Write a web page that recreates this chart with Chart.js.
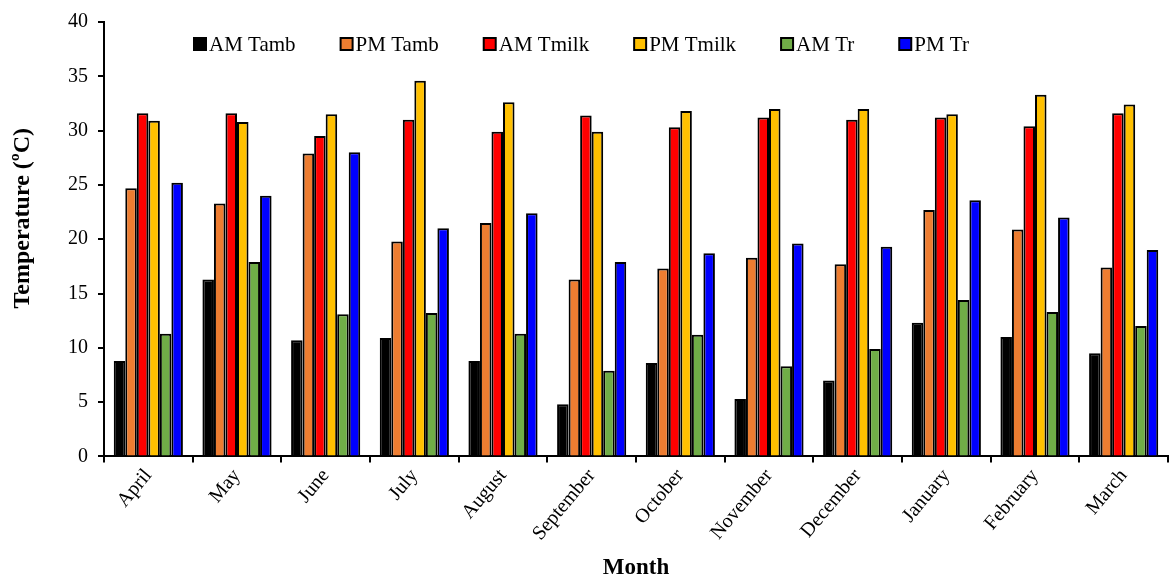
<!DOCTYPE html>
<html>
<head>
<meta charset="utf-8">
<script src="https://cdn.jsdelivr.net/npm/chart.js@4.4.0/dist/chart.umd.min.js"></script>
<style>
  html, body { margin: 0; padding: 0; background: #ffffff; }
  #wrap { width: 1170px; height: 579px; }
</style>
</head>
<body>
<div id="wrap"><canvas id="c" width="1170" height="579"></canvas></div>
<script>
const months = ["April", "May", "June", "July", "August", "September", "October", "November", "December", "January", "February", "March"];
const amTamb  = [8.8, 16.3, 10.7, 10.9, 8.8, 4.8, 8.6, 5.3, 7.0, 12.3, 11.0, 9.5];
const pmTamb  = [24.7, 23.3, 27.9, 19.8, 21.5, 16.3, 17.3, 18.3, 17.7, 22.7, 20.9, 17.4];
const amTmilk = [31.6, 31.6, 29.5, 31.0, 29.9, 31.4, 30.3, 31.2, 31.0, 31.2, 30.4, 31.6];
const pmTmilk = [30.9, 30.8, 31.5, 34.6, 32.6, 29.9, 31.8, 32.0, 32.0, 31.5, 33.3, 32.4];
const amTr    = [11.3, 17.9, 13.1, 13.2, 11.3, 7.9, 11.2, 8.3, 9.9, 14.4, 13.3, 12.0];
const pmTr    = [25.2, 24.0, 28.0, 21.0, 22.4, 17.9, 18.7, 19.6, 19.3, 23.6, 22.0, 19.0];
const seriesNames = ["AM Tamb", "PM Tamb", "AM Tmilk", "PM Tmilk", "AM Tr", "PM Tr"];
const seriesColors = ["#000000", "#ED7D31", "#FF0000", "#FFC000", "#70AD47", "#0000FF"];
const seriesValues = [amTamb, pmTamb, amTmilk, pmTmilk, amTr, pmTr];
const yTicks = [0, 5, 10, 15, 20, 25, 30, 35, 40];
const yTitle = "Temperature (ºC)";
const xTitle = "Month";

const FONT = "'Liberation Serif', 'Times New Roman', serif";

const datasets = seriesNames.map((name, i) => ({
  label: name,
  data: seriesValues[i],
  backgroundColor: seriesColors[i],
  borderColor: "#000000",
  borderWidth: 2,
  categoryPercentage: 0.78,
  barPercentage: 1.0
}));

const legendPlugin = {
  id: "insideLegend",
  afterDraw(chart) {
    const ctx = chart.ctx;
    const area = chart.chartArea;
    ctx.save();
    ctx.font = "21px " + FONT;
    ctx.textBaseline = "middle";
    ctx.textAlign = "left";
    let x = area.left + 90;
    const y = area.top + 22;
    chart.data.datasets.forEach(ds => {
      const box = 12;
      ctx.fillStyle = ds.backgroundColor;
      ctx.fillRect(x, y - box / 2, box, box);
      ctx.lineWidth = 2;
      ctx.strokeStyle = "#000000";
      ctx.strokeRect(x, y - box / 2, box, box);
      ctx.fillStyle = "#000000";
      ctx.fillText(ds.label, x + box + 3, y + 1);
      x += box + 3 + ctx.measureText(ds.label).width + 45;
    });
    ctx.restore();
  }
};

const yTitlePlugin = {
  id: "yTitle",
  afterDraw(chart) {
    const ctx = chart.ctx;
    const area = chart.chartArea;
    ctx.save();
    ctx.translate(23, (area.top + area.bottom) / 2 - 21);
    ctx.rotate(-Math.PI / 2);
    ctx.font = "bold 24px " + FONT;
    ctx.fillStyle = "#000000";
    ctx.textAlign = "center";
    ctx.textBaseline = "middle";
    ctx.fillText(yTitle, 0, 0);
    ctx.restore();
  }
};

new Chart(document.getElementById("c"), {
  type: "bar",
  data: { labels: months, datasets: datasets },
  options: {
    responsive: false,
    devicePixelRatio: 1,
    animation: false,
    layout: { padding: { left: 58, top: 12, right: 2, bottom: -3 } },
    plugins: {
      legend: { display: false },
      tooltip: { enabled: false }
    },
    scales: {
      x: {
        offset: true,
        grid: { display: true, offset: true, drawOnChartArea: false, drawTicks: true, tickLength: 6, color: "#000000", lineWidth: 2 },
        border: { display: true, color: "#000000", width: 2 },
        ticks: { color: "#000000", font: { family: FONT, size: 20 }, minRotation: 50, maxRotation: 50, padding: 2 },
        title: { display: true, text: xTitle, color: "#000000", font: { family: FONT, size: 23, weight: "bold" }, padding: { top: 7, bottom: 0 } }
      },
      y: {
        min: 0,
        max: 40,
        afterBuildTicks(scale) { scale.ticks = yTicks.map(v => ({ value: v })); },
        grid: { display: true, drawOnChartArea: false, drawTicks: true, tickLength: 6, color: "#000000", lineWidth: 2 },
        border: { display: true, color: "#000000", width: 2 },
        ticks: { color: "#000000", font: { family: FONT, size: 20 }, padding: 10 },
        title: { display: false }
      }
    }
  },
  plugins: [legendPlugin, yTitlePlugin]
});
</script>
</body>
</html>
